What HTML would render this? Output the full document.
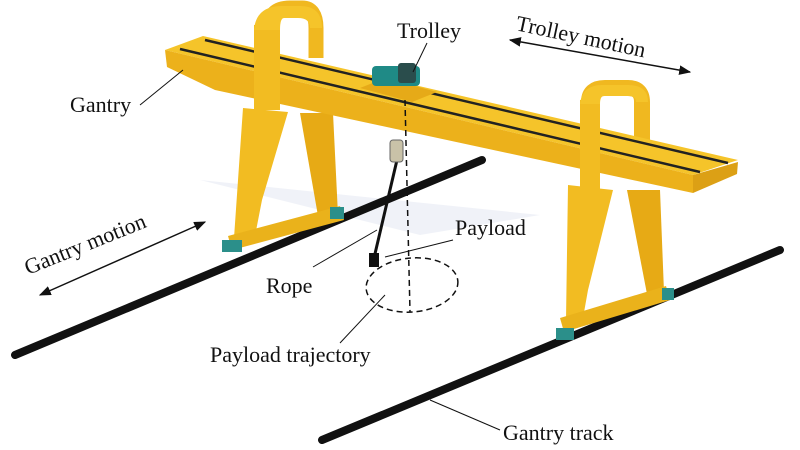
<!DOCTYPE html>
<html><head><meta charset="utf-8"><style>
html,body{margin:0;padding:0;background:#fff}
svg{display:block}
text{font-family:"Liberation Serif",serif;fill:#111}
</style></head><body>
<svg width="800" height="450" viewBox="0 0 800 450" xmlns="http://www.w3.org/2000/svg">
<defs>
<marker id="ah" viewBox="0 0 10 10" refX="9" refY="5" markerWidth="8" markerHeight="8" orient="auto-start-reverse"><path d="M0,1 L10,5 L0,9 z" fill="#111"/></marker>
</defs>
<!-- faint watermark -->
<path d="M200,180 L540,215 L420,235 Z" fill="#e6e9f3" opacity="0.6"/>
<!-- rails -->
<line x1="15" y1="355" x2="482" y2="160" stroke="#111" stroke-width="8" stroke-linecap="round"/>
<line x1="322" y1="440" x2="780" y2="250" stroke="#111" stroke-width="8" stroke-linecap="round"/>

<!-- left frame loop (back post behind girder) -->
<path d="M269,75 L269,28 Q269,8 290,8 L302,8 Q316,8 316,28 L316,58" fill="none" stroke="#f0b820" stroke-width="15"/>
<!-- right frame loop -->
<path d="M589,150 L589,102 Q589,88 605,88 L628,88 Q642,88 642,102 L642,142" fill="none" stroke="#f0b820" stroke-width="16"/>

<!-- left legs -->
<polygon points="300,113 333,113 338,215 318,216" fill="#e7aa15"/>
<polygon points="243,108 288,112 262,200 255,236 234,238" fill="#f2bc22"/>
<polygon points="228,236 340,206 344,220 232,250" fill="#eab21b"/>
<rect x="222" y="240" width="20" height="12" fill="#2b8f8a"/>
<rect x="330" y="207" width="14" height="12" fill="#2b8f8a"/>

<!-- right legs -->
<polygon points="627,190 660,190 664,292 647,294" fill="#e7aa15"/>
<polygon points="568,185 613,190 588,290 583,318 566,320" fill="#f2bc22"/>
<polygon points="560,318 666,286 670,300 564,332" fill="#eab21b"/>
<rect x="556" y="328" width="18" height="12" fill="#2b8f8a"/>
<rect x="662" y="288" width="12" height="12" fill="#2b8f8a"/>

<!-- girder -->
<polygon points="165,50 203,36 738,160 693,175" fill="#f5c42a"/>
<polygon points="165,50 693,175 693,193 215,90 167,67" fill="#ecb11b"/>
<polygon points="693,175 738,162 737,174 693,193" fill="#dca015"/>
<line x1="205" y1="40" x2="728" y2="163" stroke="#222" stroke-width="2.5"/>
<line x1="180" y1="49" x2="700" y2="172" stroke="#222" stroke-width="2.5"/>
<!-- front posts of loops over girder -->
<path d="M257,112 L257,28 Q257,8 280,8 L290,8" fill="none" stroke="#f5c42a" stroke-width="0"/>
<rect x="254" y="25" width="26" height="85" fill="#f2bc22"/>
<path d="M254,30 Q256,6 282,6 L300,6 Q322,6 322,28 L310,28 Q310,18 298,18 L284,18 Q280,18 280,30 Z" fill="#f5c42a"/>
<rect x="580" y="100" width="20" height="92" fill="#f2bc22"/>
<path d="M580,104 Q582,85 602,85 L628,85 Q648,85 648,102 L636,102 Q636,96 628,96 L604,96 Q600,96 600,104 Z" fill="#f5c42a"/>

<!-- trolley -->
<polygon points="360,88 385,78 437,92 412,102" fill="#e6aa18"/>
<rect x="372" y="66" width="48" height="20" rx="4" fill="#1f8a86"/>
<rect x="398" y="63" width="18" height="20" rx="3" fill="#2a4d4c"/>

<!-- rope & hook -->
<line x1="397" y1="160" x2="374" y2="258" stroke="#111" stroke-width="3"/>
<rect x="390" y="140" width="13" height="22" rx="3" fill="#c9c2a8" stroke="#666"/>
<rect x="369" y="253" width="10" height="14" fill="#111"/>
<line x1="405" y1="100" x2="410" y2="312" stroke="#111" stroke-width="1.5" stroke-dasharray="6,4"/>
<ellipse cx="412" cy="285" rx="46" ry="27" fill="none" stroke="#111" stroke-width="1.5" stroke-dasharray="6,4" transform="rotate(-5 412 285)"/>

<!-- leader lines -->
<line x1="427" y1="43" x2="413" y2="72" stroke="#111" stroke-width="1"/>
<line x1="313" y1="267" x2="377" y2="230" stroke="#111" stroke-width="1"/>
<line x1="453" y1="240" x2="385" y2="257" stroke="#111" stroke-width="1"/>
<line x1="340" y1="343" x2="385" y2="295" stroke="#111" stroke-width="1"/>
<line x1="500" y1="430" x2="430" y2="400" stroke="#111" stroke-width="1"/>
<line x1="140" y1="105" x2="183" y2="70" stroke="#111" stroke-width="1"/>

<!-- motion arrows -->
<line x1="510" y1="40" x2="690" y2="72" stroke="#111" stroke-width="1.5" marker-start="url(#ah)" marker-end="url(#ah)"/>
<line x1="40" y1="295" x2="205" y2="222" stroke="#111" stroke-width="1.5" marker-start="url(#ah)" marker-end="url(#ah)"/>

<!-- labels -->
<text x="397" y="38" font-size="22">Trolley</text>
<text x="515" y="30" font-size="22" transform="rotate(12 515 30)">Trolley motion</text>
<text x="70" y="112" font-size="22">Gantry</text>
<text x="28" y="275" font-size="22" transform="rotate(-22 28 275)">Gantry motion</text>
<text x="455" y="235" font-size="22">Payload</text>
<text x="266" y="293" font-size="22">Rope</text>
<text x="210" y="362" font-size="22">Payload trajectory</text>
<text x="503" y="440" font-size="22">Gantry track</text>
</svg>
</body></html>
